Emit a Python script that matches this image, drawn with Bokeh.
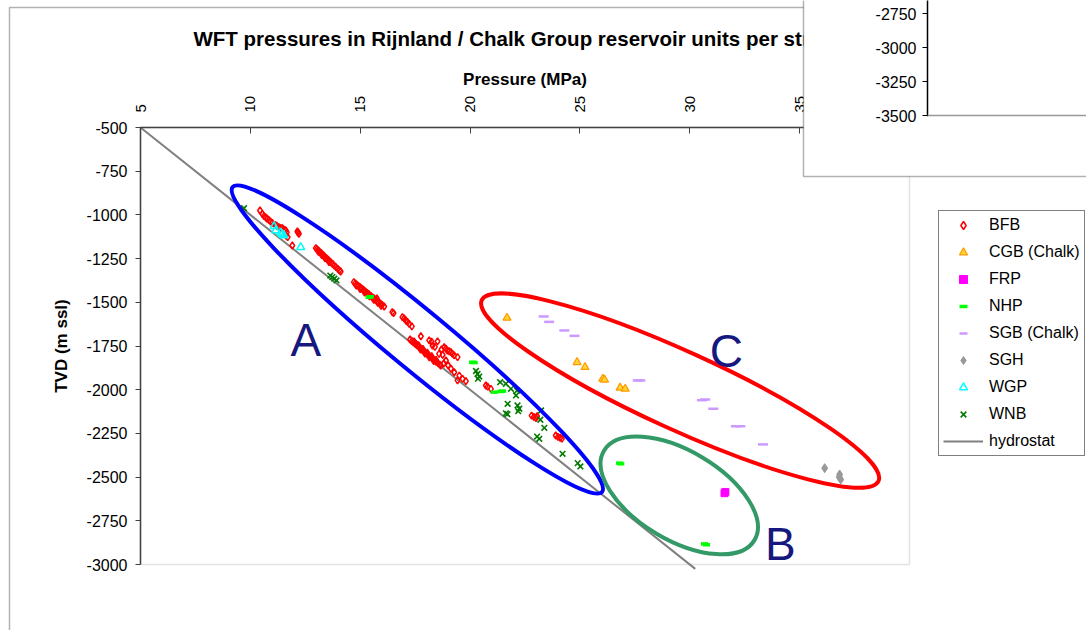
import math
from bokeh.plotting import figure
from bokeh.models import (Range1d, FixedTicker, Label, BoxAnnotation, Legend, LegendItem)
from bokeh.core.properties import value
from bokeh.embed import file_html
from bokeh.resources import INLINE

FONT = "Liberation Sans"

# ---------------- data ----------------
x_ticks = [5, 10, 15, 20, 25, 30, 35, 40]
x_tick_labels = ["5", "10", "15", "20", "25", "30", "35", "40"]
y_ticks = [-500, -750, -1000, -1250, -1500, -1750, -2000, -2250, -2500, -2750, -3000]
y_tick_labels = ["-500", "-750", "-1000", "-1250", "-1500", "-1750", "-2000", "-2250", "-2500", "-2750", "-3000"]

bfb_p = [10.44, 10.55, 10.62, 10.70, 10.77, 10.85, 10.92, 11.00, 11.12, 11.20, 11.30, 11.38, 11.46, 11.55,
         11.61, 11.66, 11.70, 11.62, 12.14, 12.21, 12.17, 11.91,
         12.98, 13.03, 13.08, 13.12, 13.18, 13.22, 13.28, 13.33, 13.38, 13.45, 13.50, 13.55, 13.62, 13.68,
         13.75, 13.82, 13.90, 13.98, 14.05, 14.11, 13.10, 13.25, 13.40, 13.58,
         14.71, 14.78, 14.85, 14.92, 15.00, 15.06, 15.12, 15.18, 15.25, 15.32, 15.40, 15.48, 15.55, 15.62,
         15.70, 15.78, 15.85, 15.92, 16.00, 16.09, 14.82, 15.00, 15.20, 15.42, 15.62, 15.80, 15.95, 15.76,
         16.46, 16.52, 16.92, 17.00, 17.08, 17.15, 17.23, 17.35, 17.76,
         17.27, 17.35, 17.42, 17.50, 17.58, 17.66, 17.74, 17.82, 17.90, 17.98, 18.06, 18.14, 18.22, 18.30,
         18.38, 18.46, 18.55, 18.62, 18.67, 17.45, 17.65, 17.85, 18.05, 18.25, 18.45, 17.55, 17.75, 17.95,
         18.15, 18.35,
         18.14, 18.25, 18.52, 18.29, 18.40, 18.59, 18.82, 18.90, 18.97, 19.05, 19.13, 19.20, 19.28, 19.43,
         18.70, 18.75,
         18.90, 19.13, 19.28, 19.51, 19.66, 19.81, 19.43, 19.00, 18.80,
         20.72, 20.80, 20.95, 22.80, 22.90, 23.00, 23.05, 23.90, 24.00, 24.10, 24.18]
bfb_d = [-975, -995, -1007, -1015, -1022, -1030, -1038, -1046, -1057, -1062, -1070, -1074, -1076, -1085,
         -1089, -1100, -1127, -1118, -1095, -1108, -1100, -1175,
         -1190, -1196, -1202, -1207, -1214, -1218, -1226, -1232, -1237, -1246, -1252, -1258, -1266, -1273,
         -1281, -1290, -1299, -1309, -1317, -1324, -1212, -1230, -1248, -1270,
         -1385, -1392, -1399, -1406, -1414, -1420, -1426, -1432, -1439, -1446, -1454, -1463, -1470, -1477,
         -1485, -1493, -1500, -1507, -1515, -1524, -1405, -1424, -1444, -1466, -1486, -1503, -1520, -1478,
         -1556, -1562, -1585, -1592, -1604, -1612, -1623, -1638, -1694,
         -1713, -1722, -1729, -1737, -1746, -1754, -1763, -1772, -1780, -1789, -1797, -1806, -1814, -1823,
         -1831, -1840, -1849, -1857, -1862, -1724, -1745, -1766, -1788, -1808, -1830, -1738, -1770, -1793,
         -1815, -1836,
         -1718, -1725, -1724, -1747, -1755, -1795, -1757, -1765, -1776, -1780, -1785, -1795, -1804, -1814,
         -1770, -1800,
         -1833, -1880, -1900, -1919, -1938, -1951, -1947, -1860, -1850,
         -1976, -1982, -1995, -2148, -2155, -2162, -2152, -2262, -2270, -2275, -2280]

cgb_p = [21.68, 24.87, 25.23, 26.04, 26.12, 26.83, 27.06]
cgb_d = [-1589, -1843, -1871, -1938, -1943, -1989, -1995]

frp_p = [31.58, 31.62]
frp_d = [-2592, -2585]

nhp_p = [15.40, 15.46, 20.11, 20.19, 21.10, 21.48, 21.40, 26.80, 26.86, 30.67, 30.76]
nhp_d = [-1471, -1468, -1843, -1845, -2014, -2008, -2010, -2420, -2424, -2882, -2887]

sgb_p = [23.35, 23.60, 24.29, 24.75, 27.63, 27.75, 30.55, 30.70, 31.07, 32.10, 32.30, 33.33]
sgb_d = [-1581, -1612, -1661, -1692, -1947, -1947, -2060, -2056, -2109, -2209, -2209, -2313]

sgh_p = [36.14, 36.82, 36.87, 36.80]
sgh_d = [-2449, -2485, -2514, -2500]

wgp_p = [11.08, 11.15, 11.38, 11.53, 11.45, 12.29]
wgp_d = [-1065, -1089, -1102, -1118, -1110, -1185]

wnb_p = [9.71, 13.64, 13.73, 13.82, 13.92, 20.27, 20.34, 20.42, 20.36, 21.37, 21.63, 21.86, 22.14, 22.09,
         21.71, 21.63, 21.70, 22.16, 22.24, 22.19, 23.23, 23.20, 23.38, 23.05, 23.15, 24.21, 24.90, 25.02]
wnb_d = [-962, -1347, -1356, -1365, -1375, -1893, -1910, -1925, -1937, -1957, -1966, -1995, -2005, -2033,
         -2081, -2135, -2140, -2090, -2109, -2123, -2119, -2172, -2218, -2268, -2281, -2367, -2420, -2439]

hydro_p = [5, 30.25]
hydro_d = [-500, -3025]

# annotation groups (ellipses + letters)
group_letters = ["A", "B", "C"]
letter_p = [12.52, 34.12, 31.66]
letter_d = [-1713, -2883, -1776]
ell_p = [17.60, 29.52, 29.56]
ell_d = [-1713, -2605, -2005]

overlay_ticks = [-2750, -3000, -3250, -3500]
overlay_labels = ["-2750", "-3000", "-3250", "-3500"]

# ---------------- layout constants (page px; canvas == page) ----------------
W, H = 1086, 630
FL, FR, FT, FB = 140, 909, 127, 564   # plot area left/right/top/bottom
XMIN, XMAX, YMIN, YMAX = 5, 40, -3000, -500
xs = (FR - FL) / (XMAX - XMIN)
ys = (FB - FT) / (YMAX - YMIN)


def sx(px):
    return px


def sy(py):
    return H - py


p = figure(width=W, height=H, output_backend="svg", toolbar_location=None,
           x_range=Range1d(XMIN - FL / xs, XMAX + (W - FR) / xs),
           y_range=Range1d(YMIN - (H - FB) / ys, YMAX + FT / ys),
           x_axis_location="above", min_border=0)
p.background_fill_color = "white"
p.border_fill_color = "white"
p.outline_line_color = None
p.grid.visible = False

# x axis (top), fixed at the top of the plot area
xa = p.xaxis[0]
xa.fixed_location = YMAX
xa.bounds = (XMIN, XMAX)
xa.ticker = FixedTicker(ticks=x_ticks)
xa.major_label_overrides = dict(zip(x_ticks, x_tick_labels))
xa.major_label_orientation = math.pi / 2
xa.major_tick_in = 6
xa.major_tick_out = 0
xa.minor_tick_line_color = None
xa.major_label_standoff = 15
xa.major_label_text_font = FONT
xa.major_label_text_font_size = "15px"
xa.major_label_text_color = "black"
xa.axis_line_color = "#404040"
xa.axis_line_width = 1.5
xa.major_tick_line_color = "#404040"
xa.axis_label = "Pressure (MPa)"
xa.axis_label_text_font = FONT
xa.axis_label_text_font_size = "17px"
xa.axis_label_text_font_style = "bold"
xa.axis_label_text_color = "black"
xa.axis_label_standoff = 4

ya = p.yaxis[0]
ya.fixed_location = XMIN
ya.bounds = (YMIN, YMAX)
ya.ticker = FixedTicker(ticks=y_ticks)
ya.major_label_overrides = dict(zip(y_ticks, y_tick_labels))
ya.major_tick_in = 0
ya.major_tick_out = 5
ya.minor_tick_line_color = None
ya.major_label_standoff = 8
ya.major_label_text_font = FONT
ya.major_label_text_font_size = "16px"
ya.major_label_text_color = "black"
ya.axis_line_color = "#404040"
ya.axis_line_width = 1.5
ya.major_tick_line_color = "#404040"
ya.axis_label = "TVD (m ssl)"
ya.axis_label_text_font = FONT
ya.axis_label_text_font_size = "17px"
ya.axis_label_text_font_style = "bold"
ya.axis_label_text_color = "black"
ya.axis_label_standoff = 13

# chart-area border
p.add_layout(BoxAnnotation(left=sx(9), right=sx(1130), top=sy(7), bottom=sy(720),
                           left_units="screen", right_units="screen", top_units="screen", bottom_units="screen",
                           fill_alpha=0, line_color="black", line_width=1.5, level="underlay"))
# plot-area border (grey)
p.add_layout(BoxAnnotation(left=XMIN, right=XMAX, top=YMAX, bottom=YMIN,
                           fill_alpha=0, line_color="#a0a0a0", line_width=1.5, level="underlay"))

# ---------------- series ----------------
r_hyd = p.line(hydro_p, hydro_d, line_color="#808080", line_width=2)
r_bfb = p.scatter(bfb_p, bfb_d, marker="diamond", size=7, line_color="#ff0000", line_width=1.5, fill_alpha=0)
r_cgb = p.scatter(cgb_p, cgb_d, marker="triangle", size=8, line_color="#ff9900", fill_color="#ffd633", line_width=1.2)
r_frp = p.scatter(frp_p, frp_d, marker="square", size=7, line_color="#ff00ff", fill_color="#ff00ff")
r_nhp = p.scatter(nhp_p, nhp_d, marker="dash", size=7, line_color="#00ff00", line_width=3.5)
r_sgb = p.scatter(sgb_p, sgb_d, marker="dash", size=10, line_color="#cc99ff", line_width=2.5)
r_sgh = p.scatter(sgh_p, sgh_d, marker="diamond", size=9, line_color="#999999", fill_color="#999999")
r_wgp = p.scatter(wgp_p, wgp_d, marker="triangle", size=8, line_color="#00ffff", line_width=1.5, fill_alpha=0)
r_wnb = p.scatter(wnb_p, wnb_d, marker="x", size=8, line_color="#007a00", line_width=1.6)

# ---------------- drawn ellipses and letters ----------------
p.ellipse(x=ell_p, y=ell_d, width=[479, 175, 436], height=[59, 89, 78],
          angle=[-0.69, -0.536, -0.4276], width_units="screen", height_units="screen",
          fill_alpha=0, line_color=["#0000ff", "#339966", "#ff0000"], line_width=4)
p.text(x=letter_p, y=letter_d, text=group_letters, text_color="#16187f",
       text_font=value(FONT), text_font_size="46px", text_align="center", text_baseline="middle")

# ---------------- title ----------------
p.add_layout(Label(x=sx(193), y=sy(38), x_units="screen", y_units="screen",
                   text="WFT pressures in Rijnland / Chalk Group reservoir units per structure",
                   text_font=FONT, text_font_size="20.5px", text_font_style="bold",
                   text_color="black", text_baseline="middle", text_align="left"))

# ---------------- legend ----------------
legend = Legend(items=[
    LegendItem(label="BFB", renderers=[r_bfb]),
    LegendItem(label="CGB (Chalk)", renderers=[r_cgb]),
    LegendItem(label="FRP", renderers=[r_frp]),
    LegendItem(label="NHP", renderers=[r_nhp]),
    LegendItem(label="SGB (Chalk)", renderers=[r_sgb]),
    LegendItem(label="SGH", renderers=[r_sgh]),
    LegendItem(label="WGP", renderers=[r_wgp]),
    LegendItem(label="WNB", renderers=[r_wnb]),
    LegendItem(label="hydrostat", renderers=[r_hyd]),
], location=(sx(938), sy(456)))
legend.border_line_color = "black"
legend.border_line_width = 1
legend.background_fill_color = "white"
legend.background_fill_alpha = 1
legend.label_text_font = FONT
legend.label_text_font_size = "16px"
legend.label_text_color = "black"
legend.glyph_width = 40
legend.glyph_height = 20
legend.label_height = 20
legend.spacing = 7
legend.padding = 4
legend.margin = 0
legend.label_standoff = 6
p.add_layout(legend)

# ---------------- overlapping chart panel (top right) ----------------
p.add_layout(BoxAnnotation(left=sx(803), right=sx(1130), top=sy(-30), bottom=sy(176),
                           left_units="screen", right_units="screen", top_units="screen", bottom_units="screen",
                           fill_color="white", fill_alpha=1, line_color="black", line_width=1.5, level="overlay"))
OVL_AXIS_X = 927
OVL_BASE_Y = 115
OVL_STEP = 34.0


def ovl_y(v):
    return OVL_BASE_Y - (v - overlay_ticks[-1]) / 250.0 * OVL_STEP


p.add_layout(BoxAnnotation(left=sx(OVL_AXIS_X) - 0.75, right=sx(OVL_AXIS_X) + 0.75,
                           top=sy(-30), bottom=sy(OVL_BASE_Y) - 0.75,
                           left_units="screen", right_units="screen", top_units="screen", bottom_units="screen",
                           fill_color="black", fill_alpha=1, line_alpha=0, level="overlay"))
p.add_layout(BoxAnnotation(left=sx(OVL_AXIS_X), right=sx(1130),
                           top=sy(OVL_BASE_Y) + 0.75, bottom=sy(OVL_BASE_Y) - 0.75,
                           left_units="screen", right_units="screen", top_units="screen", bottom_units="screen",
                           fill_color="#999999", fill_alpha=1, line_alpha=0, level="overlay"))
for v, lab in zip(overlay_ticks, overlay_labels):
    yy = ovl_y(v)
    p.add_layout(BoxAnnotation(left=sx(OVL_AXIS_X - 5), right=sx(OVL_AXIS_X),
                               top=sy(yy) + 0.6, bottom=sy(yy) - 0.6,
                               left_units="screen", right_units="screen", top_units="screen", bottom_units="screen",
                               fill_color="black", fill_alpha=1, line_alpha=0, level="overlay"))
    p.add_layout(Label(x=sx(916), y=sy(yy), x_units="screen", y_units="screen", text=lab,
                       text_font=FONT, text_font_size="16px", text_color="black",
                       text_align="right", text_baseline="middle", level="overlay"))

open("out.html", "w").write(file_html(p, INLINE))
